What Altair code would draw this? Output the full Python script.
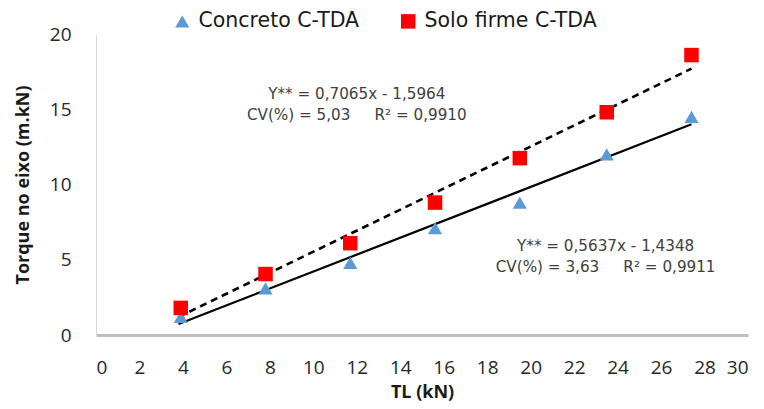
import altair as alt
import pandas as pd

# ---- data ----
tl = [3.9, 7.8, 11.7, 15.6, 19.5, 23.5, 27.4]
concreto = [1.2, 3.1, 4.8, 7.1, 8.8, 12.0, 14.5]
solo = [1.8, 4.05, 6.1, 8.8, 11.75, 14.8, 18.6]
series = ["Concreto C-TDA", "Solo firme C-TDA"]

# regression line end points
line_x = [3.8, 27.4]
line_solo = [1.2, 17.7]
line_conc = [0.73, 14.0]

ann_x = [12.0, 23.45]
ann_y = [16.02, 5.9]
NB = "\u00a0"
ann_text = [
    ["Y** = 0,7065x - 1,5964", "CV(%) = 5,03" + NB * 5 + "R² = 0,9910"],
    ["Y** = 0,5637x - 1,4348", "CV(%) = 3,63" + NB * 5 + "R² = 0,9911"],
]

FONT = "Open Sans"
WIDE = "DejaVu Sans"

pts = pd.DataFrame(
    {"TL": tl * 2, "T": concreto + solo, "s": [series[0]] * len(tl) + [series[1]] * len(tl)}
)
conc_line = pd.DataFrame({"TL": line_x, "T": line_conc})
solo_line = pd.DataFrame({"TL": line_x, "T": line_solo})
ann = pd.DataFrame({"x": ann_x, "y": ann_y, "t": ann_text})

xs = alt.Scale(domain=[0, 30], nice=False)
ys = alt.Scale(domain=[0, 20], nice=False)

xaxis = alt.Axis(
    values=list(range(0, 31, 2)), grid=False, ticks=False,
    domainColor="#BFBFBF", domainWidth=3,
    labelFont=FONT, labelFontSize=19, labelColor="#262626", labelPadding=23,
    title="TL (kN)", titleFont=FONT, titleFontSize=18, titleFontWeight="bold",
    titleColor="#1a1a1a", titlePadding=6,
)
yaxis = alt.Axis(
    values=[0, 5, 10, 15, 20], grid=False, ticks=False,
    domainColor="#D9D9D9", domainWidth=1,
    labelFont=FONT, labelFontSize=19, labelColor="#262626", labelPadding=25,
    title="Torque no eixo (m.kN)", titleFont=FONT, titleFontSize=18,
    titleFontWeight="bold", titleColor="#1a1a1a", titlePadding=17,
)

solid = alt.Chart(conc_line).mark_line(color="black", strokeWidth=2.2).encode(
    x=alt.X("TL:Q", scale=xs, axis=xaxis),
    y=alt.Y("T:Q", scale=ys, axis=yaxis),
)
dashed = alt.Chart(solo_line).mark_line(color="black", strokeWidth=2.6, strokeDash=[7, 5]).encode(
    x=alt.X("TL:Q", scale=xs),
    y=alt.Y("T:Q", scale=ys),
)

points = alt.Chart(pts).mark_point(filled=True, opacity=1).encode(
    x=alt.X("TL:Q", scale=xs),
    y=alt.Y("T:Q", scale=ys),
    color=alt.Color(
        "s:N",
        scale=alt.Scale(domain=series, range=["#5B9BD5", "#FF0000"]),
        legend=alt.Legend(
            title=None, orient="none", direction="horizontal",
            legendX=76, legendY=-23, labelFont=WIDE, labelFontSize=20.5,
            labelColor="#1a1a1a", symbolSize=210, columnPadding=38, labelOffset=6,
            labelLimit=400,
        ),
    ),
    shape=alt.Shape("s:N", scale=alt.Scale(domain=series, range=["triangle-up", "square"])),
    size=alt.Size("s:N", scale=alt.Scale(domain=series, range=[200, 210]), legend=None),
)

texts = alt.Chart(ann).mark_text(
    font=WIDE, fontSize=15.2, color="#404040", align="center", baseline="middle", lineHeight=21
).encode(
    x=alt.X("x:Q", scale=xs), y=alt.Y("y:Q", scale=ys), text="t"
)

chart = alt.layer(solid, dashed, points, texts).properties(
    width=652, height=301,
    autosize=alt.AutoSizeParams(type="none"),
    padding={"left": 88, "top": 26, "right": 8, "bottom": 66},
).configure_view(stroke=None).configure_legend(symbolOpacity=1)

chart.save("out.html", embed_options={"renderer": "svg", "actions": False})
